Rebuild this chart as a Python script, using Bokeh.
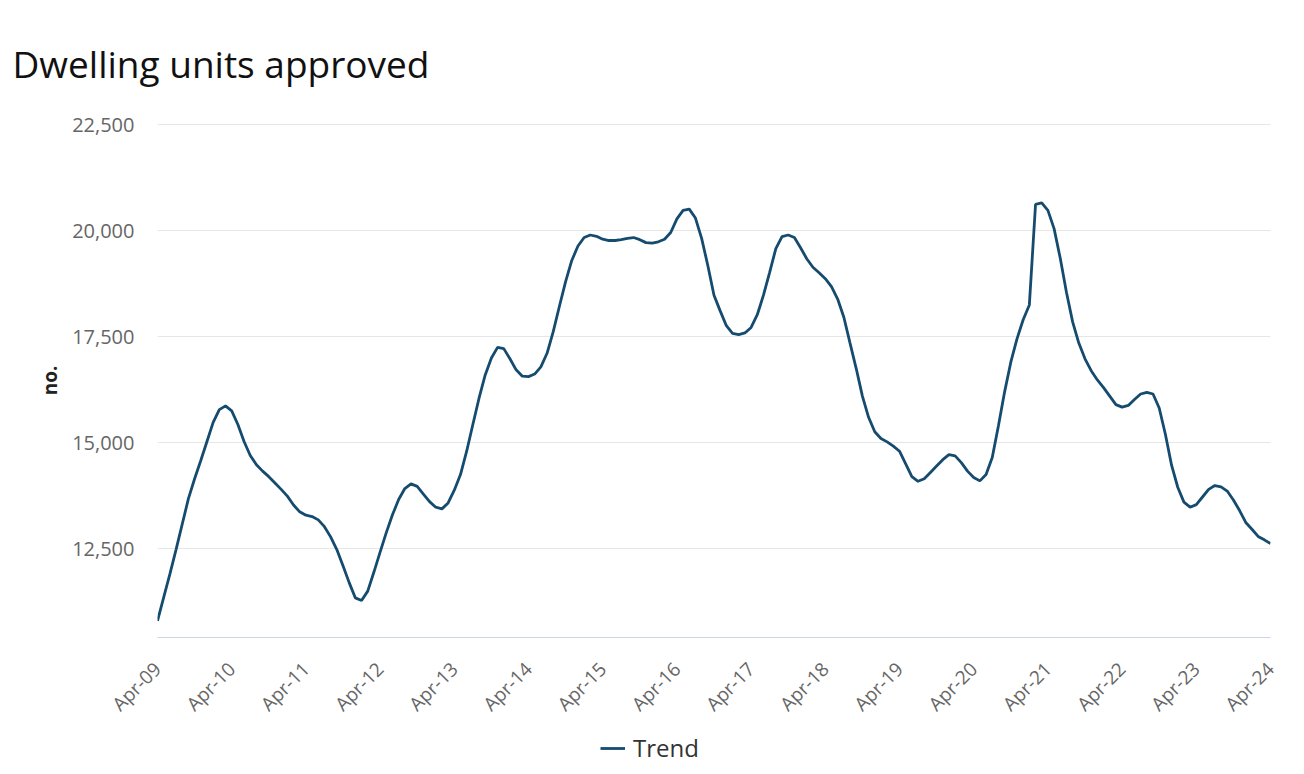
import math
from bokeh.plotting import figure
from bokeh.layouts import column
from bokeh.models import ColumnDataSource, FixedTicker, Range1d, Legend, LegendItem, NumeralTickFormatter, Title
from bokeh.embed import file_html
from bokeh.resources import INLINE

title_text = "Dwelling units approved"
y_label = "no."
series_name = "Trend"

tick_labels = ["Apr-09", "Apr-10", "Apr-11", "Apr-12", "Apr-13", "Apr-14", "Apr-15", "Apr-16",
               "Apr-17", "Apr-18", "Apr-19", "Apr-20", "Apr-21", "Apr-22", "Apr-23", "Apr-24"]

trend = [
    10800, 11350, 11900, 12480, 13080, 13680, 14150, 14580, 15030, 15480, 15780, 15870,
    15750, 15430, 15030, 14700, 14480, 14330, 14200, 14050, 13900, 13740, 13530, 13370,
    13290, 13260, 13180, 13020, 12780, 12480, 12100, 11700, 11340, 11280, 11500, 11950,
    12420, 12880, 13300, 13660, 13920, 14030, 13970, 13790, 13610, 13480, 13440, 13580,
    13880, 14250, 14800, 15430, 16050, 16600, 17000, 17250, 17220, 16980, 16720, 16570,
    16560, 16620, 16790, 17110, 17620, 18220, 18800, 19300, 19640, 19840, 19900, 19870,
    19800, 19770, 19770, 19790, 19820, 19840, 19790, 19720, 19710, 19740, 19800, 19960,
    20280, 20480, 20510, 20300, 19820, 19180, 18480, 18110, 17760, 17580, 17550, 17590,
    17720, 18020, 18480, 19020, 19580, 19860, 19900, 19840, 19600, 19340, 19140, 19010,
    18870, 18680, 18390, 17960, 17350, 16750, 16100, 15600, 15260, 15100, 15020, 14920,
    14800, 14500, 14200, 14090, 14150, 14300, 14450, 14600, 14720, 14690, 14530, 14330,
    14180, 14100, 14250, 14650, 15400, 16200, 16900, 17450, 17900, 18250, 20620, 20660,
    20480, 20050, 19350, 18550, 17850, 17350, 16980, 16700, 16480, 16300, 16100, 15900,
    15840, 15880, 16020, 16150, 16190, 16150, 15820, 15200, 14470, 13950, 13600, 13480,
    13540, 13720, 13900, 13990, 13960, 13860, 13650, 13400, 13120, 12960, 12790, 12710,
    12620,
]

line_color = "#164b70"
month_index = list(range(len(trend)))
tick_positions = [12 * k for k in range(len(tick_labels))]

source = ColumnDataSource(data=dict(x=month_index, y=trend))

p = figure(width=1304, height=729, output_backend="svg", toolbar_location=None,
           x_range=Range1d(0, len(trend) - 1), y_range=Range1d(10406, 22530),
           min_border_left=157, min_border_right=34, min_border_top=123, min_border_bottom=92)

p.title = Title(text=title_text, text_font="Open Sans", text_font_size="37px",
                text_font_style="normal", text_color="#111111", offset=-145, standoff=69)

p.outline_line_color = None
p.background_fill_color = "white"
p.border_fill_color = "white"

r = p.line("x", "y", source=source, line_color=line_color, line_width=2.8)

p.xaxis.ticker = FixedTicker(ticks=tick_positions)
p.xaxis.major_label_overrides = {pos: lab for pos, lab in zip(tick_positions, tick_labels)}
p.xaxis.major_label_orientation = math.pi / 4
p.xaxis.major_label_text_font = "Open Sans"
p.xaxis.major_label_text_font_size = "19px"
p.xaxis.major_label_text_color = "#666666"
p.xaxis.major_label_standoff = 22
p.xaxis.axis_line_color = "#ccd6eb"
p.xaxis.major_tick_line_color = None
p.xaxis.minor_tick_line_color = None
p.xgrid.grid_line_color = None

p.yaxis.ticker = FixedTicker(ticks=[12500, 15000, 17500, 20000, 22500])
p.yaxis.formatter = NumeralTickFormatter(format="0,0")
p.yaxis.major_label_text_font = "Open Sans"
p.yaxis.major_label_text_font_size = "20px"
p.yaxis.major_label_text_color = "#666666"
p.yaxis.major_label_standoff = 17
p.yaxis.axis_line_color = None
p.yaxis.major_tick_line_color = None
p.yaxis.minor_tick_line_color = None
p.yaxis.axis_label = y_label
p.yaxis.axis_label_text_font = "Open Sans"
p.yaxis.axis_label_text_font_size = "19px"
p.yaxis.axis_label_text_font_style = "bold"
p.yaxis.axis_label_text_color = "#222222"
p.yaxis.axis_label_standoff = 6
p.ygrid.grid_line_color = "#e6e6e6"

# legend strip below the chart (frame aligned with the main chart's frame)
lg = figure(width=1304, height=45, output_backend="svg", toolbar_location=None,
            x_range=Range1d(-10, -5), y_range=Range1d(0, 1),
            min_border_left=157, min_border_right=34, min_border_top=0, min_border_bottom=0)
lg.axis.visible = False
lg.grid.visible = False
lg.outline_line_color = None
lg.border_fill_color = "white"
lr = lg.line("x", "y", source=source, line_color=line_color, line_width=2.8)
legend = Legend(items=[LegendItem(label=series_name, renderers=[lr])], location=(443, 10),
                orientation="horizontal", border_line_color=None, background_fill_alpha=0,
                label_text_font="Open Sans", label_text_font_size="24px",
                label_text_font_style="normal", label_text_color="#333333",
                glyph_width=25, glyph_height=24, label_standoff=8, padding=0, margin=0)
lg.add_layout(legend, "center")

layout = column(p, lg, spacing=0)
open("out.html", "w").write(file_html(layout, INLINE))
